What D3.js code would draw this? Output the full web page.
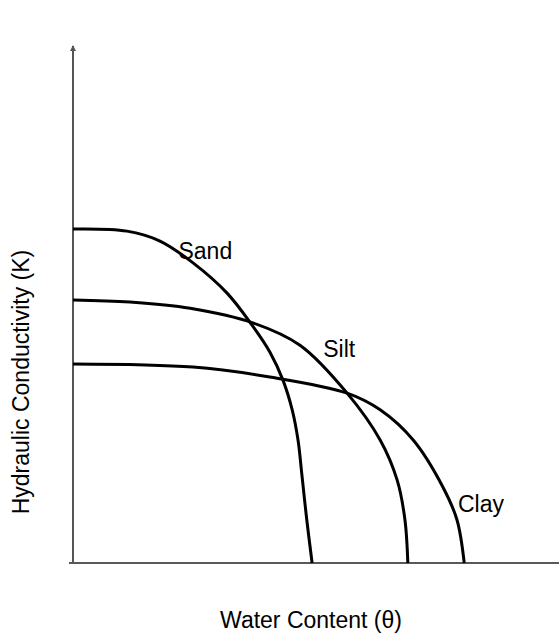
<!DOCTYPE html>
<html>
<head>
<meta charset="utf-8">
<script src="https://cdn.jsdelivr.net/npm/d3@7"></script>
<style>
    body { margin: 0; background: #fff; }
    text { font-family: "Liberation Sans", Arial, sans-serif; fill: #000; }
    .curve { fill: none; stroke: #000; stroke-width: 3; }
</style>
</head>
<body>
<div id="chart"></div>
<script>

// water content (0-100) vs hydraulic conductivity (0-100), relative units
var sand_x = [0, 11.1, 17.9, 24.7, 31.7, 36.8, 40.5, 43.2, 45.1, 46.3, 47.1, 48.1, 49.2];
var sand_y = [64.1, 63.7, 61.8, 57.6, 51.8, 45.7, 40.5, 35.1, 29.4, 23.6, 16.9, 8.3, 0];

var silt_x = [0, 11.7, 24.1, 37.0, 46.7, 56.4, 63.2, 66.7, 68.3, 68.9];
var silt_y = [50.5, 50.1, 48.9, 46.1, 41.8, 32.6, 23.6, 15.9, 8.3, 0];

var clay_x = [0, 24.7, 40.5, 56.4, 63.2, 70.0, 76.1, 79.0, 80.5];
var clay_y = [38.2, 37.6, 35.7, 32.6, 29.4, 23.6, 14.6, 8.3, 0];

var soil_names = ["Sand", "Silt", "Clay"];
// label anchor points, in data units
var label_x = [21.7, 51.5, 79.2];
var label_y = [58.4, 39.5, 9.8];

var width = 559
    , height = 635
    , margin = {top: 42, right: 0, bottom: 72, left: 73}
    ;

var svg = d3.select("#chart")
    .append("svg")
    .attr("width", width)
    .attr("height", height);

svg.append("defs").html('<marker id="arrowhead" viewBox="-6 -6 12 12" refX="0" refY="0" markerWidth="6" markerHeight="6" orient="auto"><path d="M -5,-3 L 1,0 L -5,3 Z" fill="#555"></path></marker>');

var w = width - margin.left - margin.right
    , h = height - margin.top - margin.bottom
    , g = svg.append("g").attr("transform", "translate(" + margin.left + "," + margin.top + ")");

var x = d3.scaleLinear().domain([0, 100]).range([0, w]);
var y = d3.scaleLinear().domain([0, 100]).range([h, 0]);

// axes, no ticks
g.append("line")
    .attr("x1", -4).attr("x2", w)
    .attr("y1", h).attr("y2", h)
    .attr("stroke", "#222")
    .attr("stroke-width", 1.5);

g.append("line")
    .attr("x1", 0).attr("x2", 0)
    .attr("y1", h).attr("y2", 4)
    .attr("stroke", "#555")
    .attr("stroke-width", 2)
    .attr("marker-end", "url(#arrowhead)");

var line = d3.line()
    .x(function(d) { return x(d[0]); })
    .y(function(d) { return y(d[1]); })
    .curve(d3.curveCatmullRom.alpha(0.5));

var series = [
    d3.zip(sand_x, sand_y),
    d3.zip(silt_x, silt_y),
    d3.zip(clay_x, clay_y)
];

series.forEach(function(s) {
    g.append("path")
        .datum(s)
        .attr("class", "curve")
        .attr("d", line);
});

soil_names.forEach(function(name, i) {
    g.append("text")
        .attr("x", x(label_x[i]))
        .attr("y", y(label_y[i]))
        .style("font-size", "23px")
        .text(name);
});

svg.append("text")
    .attr("x", 311)
    .attr("y", 628)
    .attr("text-anchor", "middle")
    .style("font-size", "23px")
    .text("Water Content (θ)");

svg.append("text")
    .attr("transform", "translate(29,382) rotate(-90)")
    .attr("text-anchor", "middle")
    .style("font-size", "23px")
    .text("Hydraulic Conductivity (K)");

</script>
</body>
</html>
